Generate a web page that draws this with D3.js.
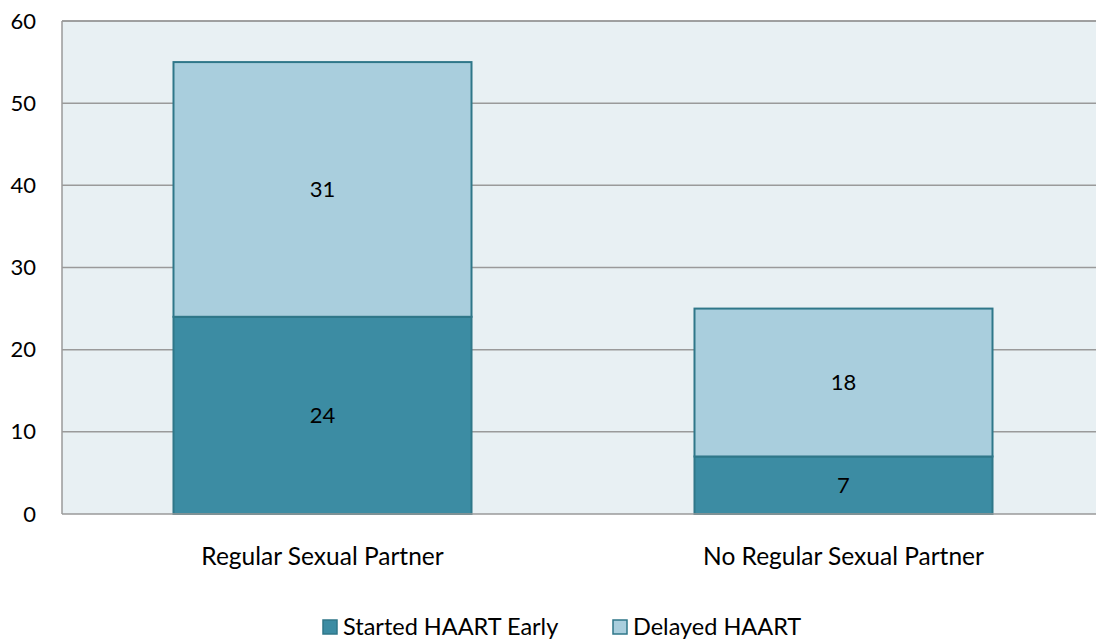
<!DOCTYPE html>
<html>
<head>
<meta charset="utf-8">
<script src="https://cdn.jsdelivr.net/npm/d3@7"></script>
<style>
  body { margin: 0; background: #fff; }
  svg text { font-family: Lato, "Open Sans", sans-serif; fill: #000; }
</style>
</head>
<body>
<svg id="chart" width="1096" height="639"></svg>
<script>
var categories = ["Regular Sexual Partner", "No Regular Sexual Partner"];
var seriesNames = ["Started HAART Early", "Delayed HAART"];
var startedEarly = [24, 7];
var delayed = [31, 18];
var yTicks = [0, 10, 20, 30, 40, 50, 60];

var COLORS = ["#3c8ca3", "#a9cedd"];
var STROKE = "#2f7789";
var FONT = "Lato, 'Open Sans', sans-serif";

var margin = { top: 21, left: 62 };
var plotW = 1042, plotH = 493;

var svg = d3.select("#chart");
var g = svg.append("g").attr("transform", "translate(" + margin.left + "," + margin.top + ")");

var x = d3.scaleBand().domain(categories).range([0, plotW]).paddingInner(0.428).paddingOuter(0.214);
var y = d3.scaleLinear().domain([0, 60]).range([plotH, 0]);

g.append("rect").attr("width", plotW).attr("height", plotH).attr("fill", "#e8f0f3");

g.selectAll("line.grid").data(yTicks.filter(function(d) { return d > 0; })).enter().append("line")
  .attr("class", "grid")
  .attr("x1", 0).attr("x2", plotW)
  .attr("y1", function(d) { return y(d); }).attr("y2", function(d) { return y(d); })
  .attr("stroke", "#9a9a9a").attr("stroke-width", 1.5);

var rows = categories.map(function(c, i) {
  return { cat: c, s0: startedEarly[i], s1: delayed[i] };
});
var stack = d3.stack().keys(["s0", "s1"])(rows);

stack.forEach(function(layer, li) {
  var lg = g.append("g");
  lg.selectAll("rect").data(layer).enter().append("rect")
    .attr("x", function(d) { return x(d.data.cat); })
    .attr("width", x.bandwidth())
    .attr("y", function(d) { return y(d[1]); })
    .attr("height", function(d) { return y(d[0]) - y(d[1]); })
    .attr("fill", COLORS[li])
    .attr("stroke", STROKE).attr("stroke-width", 2);
  lg.selectAll("text").data(layer).enter().append("text")
    .attr("x", function(d) { return x(d.data.cat) + x.bandwidth() / 2; })
    .attr("y", function(d) { return (y(d[0]) + y(d[1])) / 2; })
    .attr("dy", "0.35em")
    .attr("text-anchor", "middle")
    .attr("font-size", "22px")
    .text(function(d) { return d[1] - d[0]; });
});

// axes lines
g.append("line").attr("x1", 0).attr("x2", 0).attr("y1", 0).attr("y2", plotH)
  .attr("stroke", "#9a9a9a").attr("stroke-width", 1.5);
g.append("line").attr("x1", 0).attr("x2", plotW).attr("y1", plotH).attr("y2", plotH)
  .attr("stroke", "#9a9a9a").attr("stroke-width", 1.5);
g.append("line").attr("x1", 0).attr("x2", plotW).attr("y1", 0).attr("y2", 0)
  .attr("stroke", "#9a9a9a").attr("stroke-width", 1.5);

var yAxis = d3.axisLeft(y).tickValues(yTicks).tickSize(0).tickPadding(26);
g.append("g").call(yAxis)
  .call(function(a) { a.select(".domain").remove(); })
  .selectAll("text").attr("font-size", "22px").style("font-family", FONT).attr("fill", "#000");

var xAxis = d3.axisBottom(x).tickSize(0).tickPadding(34);
g.append("g").attr("transform", "translate(0," + plotH + ")").call(xAxis)
  .call(function(a) { a.select(".domain").remove(); })
  .selectAll("text").attr("font-size", "24.5px").style("font-family", FONT).attr("fill", "#000");

// legend
var legendX = [322, 612];
var legend = svg.append("g");
seriesNames.forEach(function(name, i) {
  legend.append("rect").attr("x", legendX[i] + 1).attr("y", 620).attr("width", 14).attr("height", 14)
    .attr("fill", COLORS[i]).attr("stroke", STROKE).attr("stroke-width", 1.5);
  legend.append("text").attr("x", legendX[i] + 21).attr("y", 627).attr("dy", "0.35em")
    .attr("font-size", "23.5px").text(name);
});
</script>
</body>
</html>
